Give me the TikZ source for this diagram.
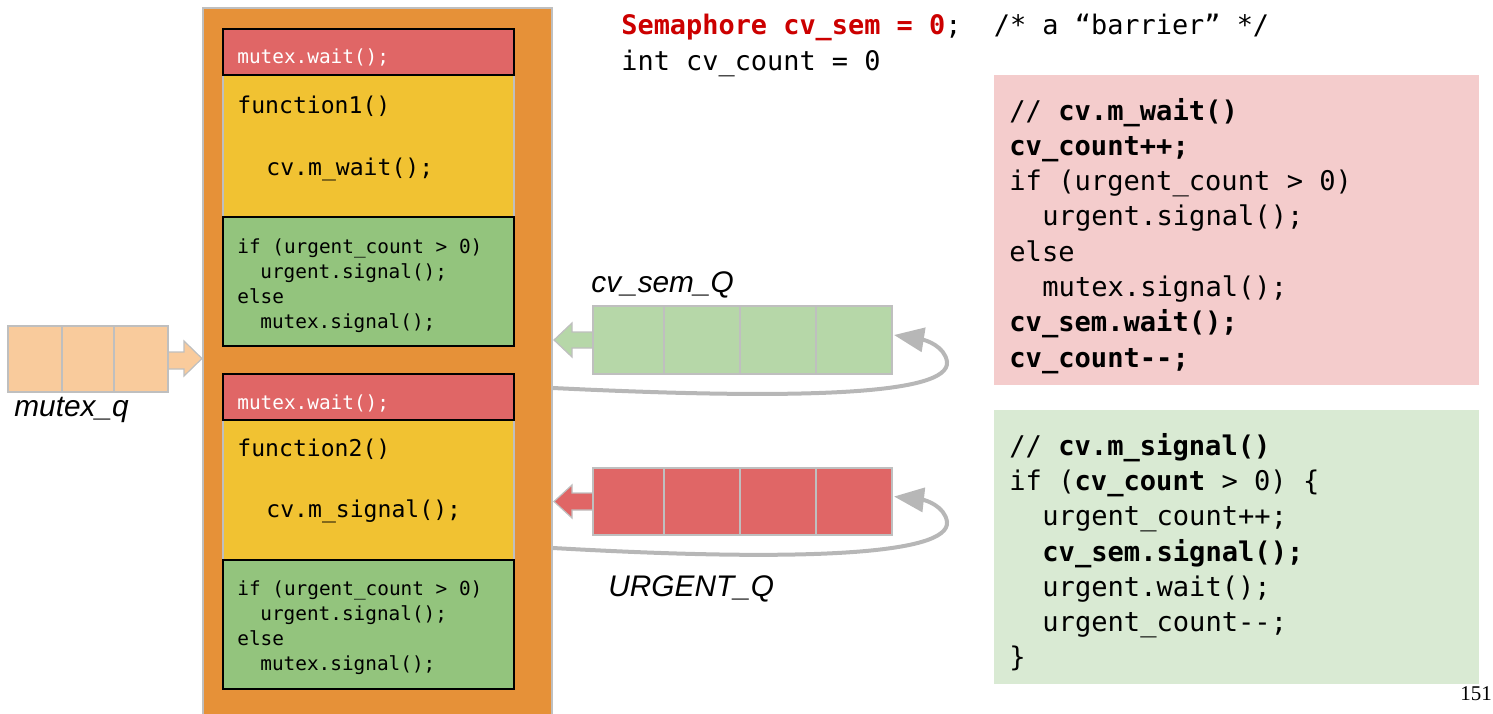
\documentclass[tikz,border=0pt]{standalone}
\usepackage{fontspec}
\setmainfont{Liberation Sans}
\setmonofont{DejaVu Sans Mono}
\newfontfamily\pagenumfont{Liberation Serif}
\usetikzlibrary{arrows.meta}
\definecolor{boxorange}{HTML}{E69138}
\definecolor{boxred}{HTML}{E06666}
\definecolor{boxyellow}{HTML}{F1C232}
\definecolor{boxgreen}{HTML}{93C47D}
\definecolor{qgreen}{HTML}{B6D7A8}
\definecolor{qpeach}{HTML}{F9CB9C}
\definecolor{panelpink}{HTML}{F4CCCC}
\definecolor{panelgreen}{HTML}{D9EAD3}
\definecolor{loopgray}{HTML}{B7B7B7}
\definecolor{cellgray}{HTML}{BFBFBF}
\definecolor{semred}{HTML}{CC0000}
\begin{document}
\begin{tikzpicture}[x=0.5pt,y=-0.5pt,
  blk/.style={anchor=north west, inner sep=0pt, outer sep=0pt, line width=0.7pt},
  cell/.style={anchor=north west, inner sep=0pt, outer sep=0pt, draw=cellgray, line width=0.6pt},
  bigcode/.style={anchor=base west, inner sep=0pt, font=\ttfamily\fontsize{13.55}{16}\selectfont},
  topcode/.style={anchor=base west, inner sep=0pt, font=\ttfamily\fontsize{13.45}{16}\selectfont},
  midcode/.style={anchor=base west, inner sep=0pt, font=\ttfamily\fontsize{11.55}{14}\selectfont},
  smallcode/.style={anchor=base west, inner sep=0pt, font=\ttfamily\fontsize{9.69}{12}\selectfont},
  qlabel/.style={anchor=base west, inner sep=0pt, font=\itshape\fontsize{14.9}{18}\selectfont},
  loop/.style={draw=loopgray, line width=2pt, -{Triangle[length=15pt,width=12pt]}},
  qarrow/.style={draw=cellgray, line width=0.6pt, line join=miter}
]
\useasboundingbox (0,0) rectangle (1493,713);

% ---- monitor box ----
\node[blk, fill=boxorange, draw=cellgray, minimum width=174.5pt, minimum height=360pt] (mon) at (203,8) {};

\node[blk, fill=boxyellow, draw=cellgray, minimum width=145.5pt, minimum height=71pt] (f1) at (223,75) {};
\node[blk, fill=boxgreen, draw=black, minimum width=145.5pt, minimum height=64.5pt] (s1) at (223,217) {};
\node[blk, fill=boxred, draw=black, minimum width=145.5pt, minimum height=23pt] (w1) at (223,29) {};

\node[blk, fill=boxyellow, draw=cellgray, minimum width=145.5pt, minimum height=70pt] (f2) at (223,420) {};
\node[blk, fill=boxgreen, draw=black, minimum width=145.5pt, minimum height=64.5pt] (s2) at (223,560) {};
\node[blk, fill=boxred, draw=black, minimum width=145.5pt, minimum height=23pt] (w2) at (223,374) {};

\node[smallcode, text=white] (w1t) at (237,63) {mutex.wait();};
\node[midcode] (f1t) at (237,113) {function1()};
\node[midcode] (f1c) at (266,175) {cv.m\_wait();};
\node[smallcode] (s1a) at (237,253) {if (urgent\_count > 0)};
\node[smallcode] (s1b) at (260,278.3) {urgent.signal();};
\node[smallcode] (s1c) at (237,303.6) {else};
\node[smallcode] (s1d) at (260,328.9) {mutex.signal();};

\node[smallcode, text=white] (w2t) at (237,409) {mutex.wait();};
\node[midcode] (f2t) at (237,456) {function2()};
\node[midcode] (f2c) at (266,517) {cv.m\_signal();};
\node[smallcode] (s2a) at (237,595) {if (urgent\_count > 0)};
\node[smallcode] (s2b) at (260,620.3) {urgent.signal();};
\node[smallcode] (s2c) at (237,645.6) {else};
\node[smallcode] (s2d) at (260,670.9) {mutex.signal();};

% ---- mutex queue ----
\path[fill=qpeach, qarrow] (168,352) -- (184,352) -- (184,341) -- (202,358.5) -- (184,376) -- (184,369) -- (168,369);
\node[cell, fill=qpeach, minimum width=27pt, minimum height=33pt] (mq1) at (8,326) {};
\node[cell, fill=qpeach, minimum width=26pt, minimum height=33pt] (mq2) at (62,326) {};
\node[cell, fill=qpeach, minimum width=27pt, minimum height=33pt] (mq3) at (114,326) {};
\node[qlabel] (mql) at (14,416) {mutex\_q};

% ---- cv_sem queue ----
\path[fill=qgreen, qarrow] (593,332) -- (572,332) -- (572,323) -- (554,340) -- (572,357) -- (572,348) -- (593,348);
\node[cell, fill=qgreen, minimum width=35.5pt, minimum height=34pt] (cq1) at (593,306) {};
\node[cell, fill=qgreen, minimum width=38pt, minimum height=34pt] (cq2) at (664,306) {};
\node[cell, fill=qgreen, minimum width=38pt, minimum height=34pt] (cq3) at (740,306) {};
\node[cell, fill=qgreen, minimum width=38pt, minimum height=34pt] (cq4) at (816,306) {};
\node[qlabel] (cql) at (591,292) {cv\_sem\_Q};

% ---- urgent queue ----
\path[fill=boxred, qarrow] (593,493) -- (572,493) -- (572,485) -- (554,501.5) -- (572,518) -- (572,510) -- (593,510);
\node[cell, fill=boxred, minimum width=35.5pt, minimum height=33.5pt] (uq1) at (593,468) {};
\node[cell, fill=boxred, minimum width=38pt, minimum height=33.5pt] (uq2) at (664,468) {};
\node[cell, fill=boxred, minimum width=38pt, minimum height=33.5pt] (uq3) at (740,468) {};
\node[cell, fill=boxred, minimum width=38pt, minimum height=33.5pt] (uq4) at (816,468) {};
\node[qlabel] (uql) at (608,596) {URGENT\_Q};

% ---- loop-back connectors ----
\coordinate (out1) at (553,388);
\coordinate (out2) at (553,548);
\draw[loop] (out1) .. controls (800,400) and (950,395) .. (947,362)
  .. controls (945,346) and (925,340) .. ([shift={(2,-5)}]cq4.east);
\draw[loop] (out2) .. controls (800,562) and (950,555) .. (947,522)
  .. controls (945,506) and (925,500) .. ([shift={(2,-5)}]uq4.east);

% ---- globals ----
\node[topcode] (g1) at (621,34) {\textcolor{semred}{\textbf{Semaphore cv\_sem = 0}};\phantom{xx}/* a “barrier” */};
\node[topcode] (g2) at (621,70) {int cv\_count = 0};

% ---- m_wait panel ----
\node[blk, fill=panelpink, minimum width=242.5pt, minimum height=155pt] (pw) at (994,75) {};
\node[bigcode] (pw1) at (1009,120) {// \textbf{cv.m\_wait()}};
\node[bigcode] (pw2) at (1009,155.3) {\textbf{cv\_count++;}};
\node[bigcode] (pw3) at (1009,190.6) {if (urgent\_count > 0)};
\node[bigcode] (pw4) at (1042,225.9) {urgent.signal();};
\node[bigcode] (pw5) at (1009,261.2) {else};
\node[bigcode] (pw6) at (1042,296.5) {mutex.signal();};
\node[bigcode] (pw7) at (1009,331.8) {\textbf{cv\_sem.wait();}};
\node[bigcode] (pw8) at (1009,367.1) {\textbf{cv\_count-{}-;}};

% ---- m_signal panel ----
\node[blk, fill=panelgreen, minimum width=242.5pt, minimum height=137pt] (ps) at (994,410) {};
\node[bigcode] (ps1) at (1009,455.5) {// \textbf{cv.m\_signal()}};
\node[bigcode] (ps2) at (1009,490.7) {if (\textbf{cv\_count} > 0) \{};
\node[bigcode] (ps3) at (1042,525.9) {urgent\_count++;};
\node[bigcode] (ps4) at (1042,561.1) {\textbf{cv\_sem.signal();}};
\node[bigcode] (ps5) at (1042,596.3) {urgent.wait();};
\node[bigcode] (ps6) at (1042,631.5) {urgent\_count-{}-;};
\node[bigcode] (ps7) at (1009,666.7) {\}};

% ---- page number ----
\node[anchor=base west, inner sep=0pt, font=\pagenumfont\fontsize{10.5}{13}\selectfont] (pn) at (1460,700) {151};
\end{tikzpicture}
\end{document}
